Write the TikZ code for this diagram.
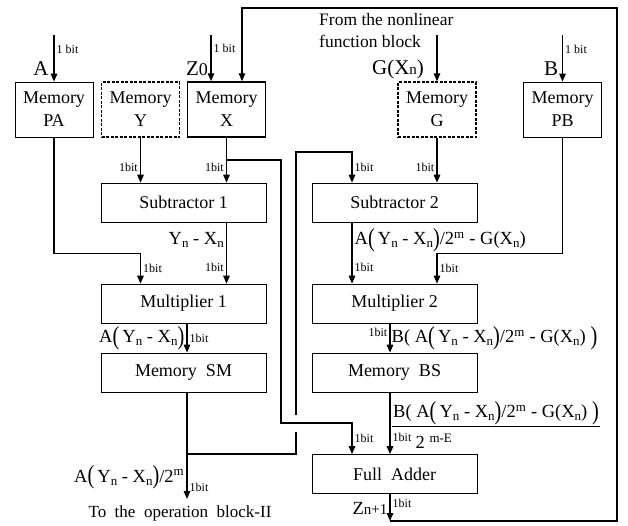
\documentclass[tikz,border=0pt]{standalone}
\usepackage{fontspec}
\setmainfont{Liberation Serif}
\usetikzlibrary{arrows.meta}
\newcommand{\sbn}[1]{\raisebox{-0.35ex}{\fontsize{13}{13}\selectfont #1}}
\newcommand{\tallL}{\raisebox{-0.2ex}{\scalebox{1.1}[1.4]{(}}}
\newcommand{\tallR}{\raisebox{-0.2ex}{\scalebox{1.1}[1.4]{)}}}
\newcommand{\yx}{\tallL\,Y\sbn{n}\ - X\sbn{n}\tallR}

\begin{document}
\begin{tikzpicture}[x=1pt,y=-1pt,
    box/.style={draw, line width=0.7pt, inner sep=0pt, align=center, font=\fontsize{18}{23}\selectfont},
    mem/.style={box, minimum width=78pt, minimum height=55pt},
    unit/.style={box, minimum width=165pt, minimum height=39pt},
    dashmem/.style={mem, line width=1.3pt, dash pattern=on 3pt off 1.5pt},
    wire/.style={line width=1.4pt, -{Triangle[length=8pt,width=6.5pt]}},
    bus/.style={line width=1.4pt},
    bit/.style={font=\fontsize{12}{12}\selectfont, inner sep=2pt},
    sig/.style={font=\fontsize{18.5}{20}\selectfont, inner sep=2pt},
    big/.style={font=\fontsize{21}{21}\selectfont, inner sep=0pt}]
    \useasboundingbox (0,0) rectangle (628,525);

    % Memories
    \node[mem] (pa) at (54,109.5) {Memory\\PA};
    \node[dashmem] (my) at (140.5,109.5) {Memory\\Y};
    \node[mem, line width=1.5pt] (mx) at (226.5,109.5) {Memory\\X};
    \node[dashmem] (mg) at (437,109.5) {Memory\\G};
    \node[mem] (pb) at (562.5,109.5) {Memory\\PB};

    % Units
    \node[unit] (sub1) at (183.5,202.5) {Subtractor 1};
    \node[unit] (mul1) at (183.5,303.5) {Multiplier 1};
    \node[unit] (sm) at (183.5,372.5) {Memory~~SM};
    \node[unit] (sub2) at (394.5,202.5) {Subtractor 2};
    \node[unit] (mul2) at (394.5,303.5) {Multiplier 2};
    \node[unit] (bs) at (394.5,372.5) {Memory~~BS};
    \node[unit] (fa) at (394.5,474) {Full~~Adder};

    % Columns and corners
    \coordinate (ina) at (54,35);
    \coordinate (inz) at (211,35);
    \coordinate (ing) at (437,35);
    \coordinate (inb) at (562.5,35);
    \coordinate (cY) at (140.5,0);
    \coordinate (cX) at (226.5,0);
    \coordinate (cM) at (187,0);
    \coordinate (cL) at (352,0);
    \coordinate (cG) at (437,0);
    \coordinate (cZ) at (390,0);
    \coordinate (xbr) at (226.5,160);
    \coordinate (xdn) at (281,423);
    \coordinate (smbr) at (187,454);
    \coordinate (hopb) at (296,432);
    \coordinate (hopt) at (296,415);
    \coordinate (fbk) at (352,152);
    \coordinate (opout) at (187,499);
    \coordinate (zout) at (390,521);
    \coordinate (fbr) at (617,8);
    \coordinate (fbx) at (242,8);

    % Inputs
    \draw[wire] (ina) -- node[bit,right,pos=0.3] {1 bit} (pa.north);
    \node[big] (la) at (41,69) {A};
    \draw[wire] (inz) -- node[bit,right,pos=0.3] {1 bit} (inz |- mx.north);
    \node[big] (lz) at (197,69) {Z{\fontsize{18}{18}\selectfont 0}};
    \node[font=\fontsize{17.5}{22}\selectfont, align=left, anchor=north west, inner sep=0pt] (lfrom) at (319,13) {From the nonlinear\\function block};
    \draw[wire] (ing) -- (mg.north);
    \node[big] (lg) at (398,69) {G(X{\fontsize{15}{15}\selectfont n})};
    \draw[wire] (inb) -- node[bit,right,pos=0.3] {1 bit} (pb.north);
    \node[big] (lb) at (551,69) {B};

    % Left datapath
    \draw[wire] (my.south) -- node[bit,left,pos=0.65] {1bit} (my.south |- sub1.north);
    \draw[wire] (mx.south) -- node[bit,left,pos=0.65] {1bit} (mx.south |- sub1.north);
    \draw[wire] (pa.south) -- ++(0,116) -| node[bit,right,pos=0.74] {1bit} (cY |- mul1.north);
    \draw[wire] (cX |- sub1.south) -- node[sig,left,pos=0.29] {Y\sbn{n}\ - X\sbn{n}}
        node[bit,left,pos=0.74] {1bit} (cX |- mul1.north);
    \draw[wire] (cM |- mul1.south) -- node[sig,left] {A\yx}
        node[bit,right] {1bit} (cM |- sm.north);
    \draw[wire] (cM |- sm.south) -- node[sig,left,pos=0.8] {A\yx/2\textsuperscript{m}}
        node[bit,right,pos=0.89] {1bit} (opout);
    \node[font=\fontsize{17}{17}\selectfont] (lop) at (180,513) {To~ the~ operation~ block-II};

    % Crossing lines
    \draw[wire] (xbr) -| (xdn) -| node[bit,right,pos=0.74] {1bit} (cL |- fa.north);
    \draw[bus] (smbr) -| (hopb);
    \draw[wire] (hopt) |- (fbk) -- node[bit,right,pos=0.5] {1bit} (cL |- sub2.north);

    % Right datapath
    \draw[wire] (mg.south) -- node[bit,left,pos=0.65] {1bit} (mg.south |- sub2.north);
    \draw[wire] (cL |- sub2.south) -- node[sig,right,pos=0.29] {A\yx/2\textsuperscript{m}\ - G(X\sbn{n})}
        node[bit,right,pos=0.74] {1bit} (cL |- mul2.north);
    \draw[wire] (pb.south) -- ++(0,116) -| node[bit,right,pos=0.74] {1bit} (cG |- mul2.north);
    \draw[wire] (cZ |- mul2.south) -- node[bit,left,pos=0.3] {1bit}
        node[sig,right,inner sep=1pt] {B( A\yx/2\textsuperscript{m}\ - G(X\sbn{n}) \tallR} (cZ |- bs.north);
    \draw[wire] (cZ |- bs.south) -- node[bit,right,pos=0.73] {1bit} (cZ |- fa.north);
    \node[sig, anchor=west, inner sep=1pt] (num) at (392,413) {B( A\yx/2\textsuperscript{m}\ - G(X\sbn{n}) \tallR};
    \draw[line width=0.8pt] (num.south west) -- (num.south east);
    \node[sig] (den) at (434,441) {2 \textsuperscript{m-E}};

    % Output and feedback
    \draw[wire] (cZ |- fa.south) -- node[sig,left,pos=0.55] {Z{\fontsize{15}{15}\selectfont n+1}}
        node[bit,right,pos=0.35] {1bit} (zout);
    \draw[wire] (zout) -| (fbr) -- (fbx) -- (fbx |- mx.north);
\end{tikzpicture}
\end{document}
